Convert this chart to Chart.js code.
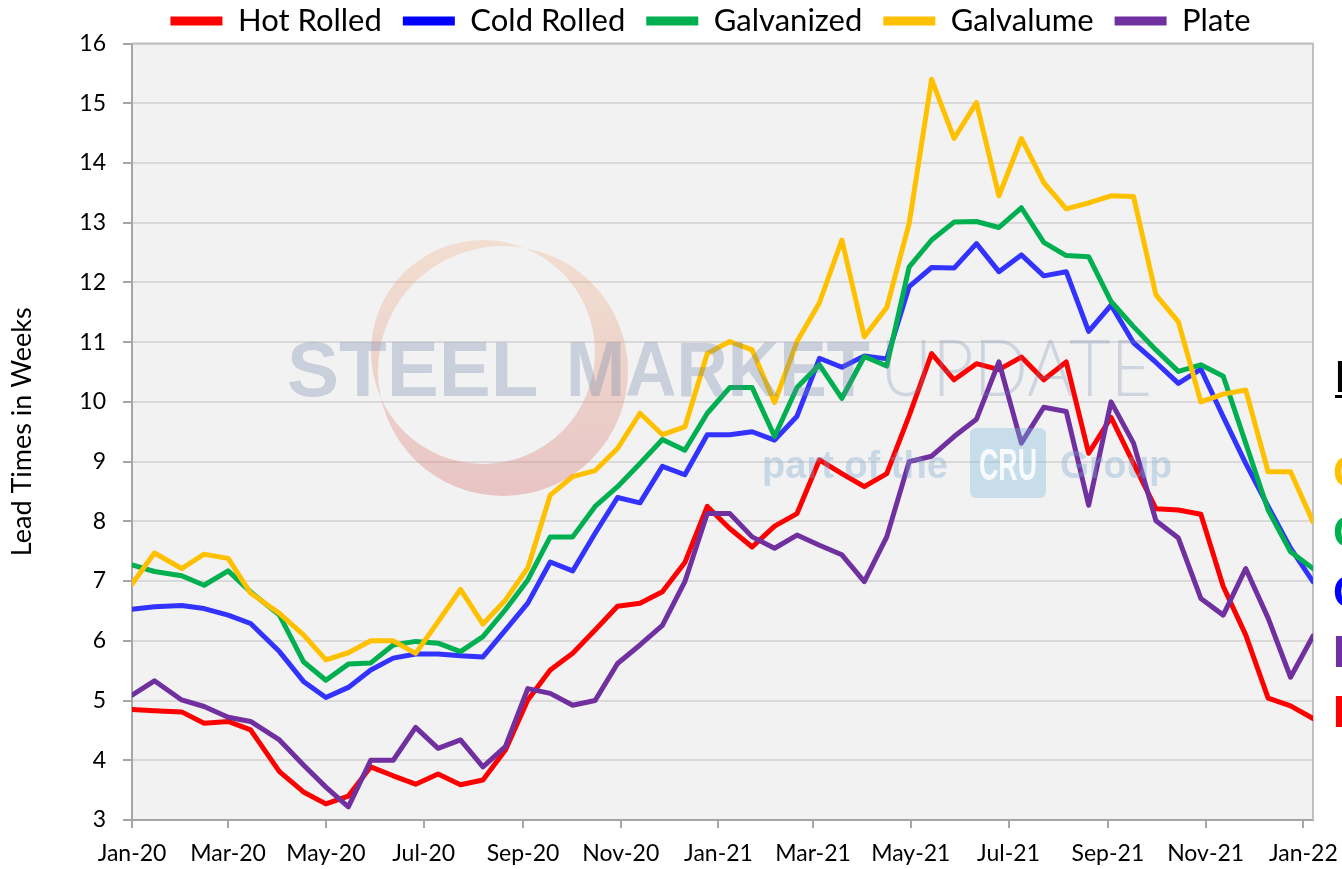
<!DOCTYPE html>
<html>
<head>
<meta charset="utf-8">
<script src="https://cdn.jsdelivr.net/npm/chart.js@4.4.1/dist/chart.umd.min.js"></script>
<style>
html, body { margin: 0; padding: 0; background: #ffffff; width: 1342px; height: 869px; overflow: hidden; }
#wrap { position: relative; width: 1421px; height: 869px; }
canvas { display: block; }
</style>
</head>
<body>
<div id="wrap"><canvas id="chart" width="1421" height="869" style="width:1421px;height:869px"></canvas></div>
<script>
// ---------- data ----------
const surveyDates = [
  '2020-01-01','2020-01-15','2020-02-01','2020-02-15','2020-03-01','2020-03-15','2020-04-02','2020-04-17',
  '2020-05-01','2020-05-15','2020-05-29','2020-06-12','2020-06-26','2020-07-10','2020-07-24','2020-08-07',
  '2020-08-21','2020-09-04','2020-09-18','2020-10-02','2020-10-16','2020-10-30','2020-11-13','2020-11-27',
  '2020-12-11','2020-12-25','2021-01-08','2021-01-22','2021-02-05','2021-02-19','2021-03-05','2021-03-19',
  '2021-04-02','2021-04-16','2021-04-30','2021-05-14','2021-05-28','2021-06-11','2021-06-25','2021-07-09',
  '2021-07-23','2021-08-06','2021-08-20','2021-09-03','2021-09-17','2021-10-01','2021-10-15','2021-10-29',
  '2021-11-12','2021-11-26','2021-12-10','2021-12-24','2022-01-07'
];
const hotRolled = [
  4.85,4.83,4.81,4.62,4.65,4.51,3.81,3.47,3.27,3.40,
  3.89,3.74,3.60,3.77,3.59,3.67,4.17,5.01,5.51,5.79,
  6.18,6.58,6.63,6.82,7.31,8.25,7.88,7.57,7.92,8.13,
  9.03,8.80,8.58,8.80,9.77,10.81,10.37,10.64,10.54,10.75,
  10.37,10.67,9.14,9.74,8.97,8.21,8.19,8.12,6.91,6.10,
  5.04,4.91,4.70
];
const coldRolled = [
  6.53,6.57,6.59,6.54,6.43,6.29,5.82,5.32,5.05,5.22,
  5.51,5.71,5.78,5.78,5.75,5.73,6.18,6.63,7.32,7.17,
  7.80,8.40,8.31,8.92,8.78,9.45,9.45,9.50,9.36,9.76,
  10.73,10.58,10.77,10.72,11.93,12.25,12.24,12.65,12.18,12.46,
  12.11,12.18,11.18,11.62,10.99,10.66,10.31,10.55,9.75,8.97,
  8.25,7.55,6.99
];
const galvanized = [
  7.27,7.16,7.09,6.93,7.17,6.82,6.43,5.65,5.34,5.61,
  5.63,5.93,5.99,5.96,5.82,6.07,6.52,7.02,7.74,7.74,
  8.25,8.58,8.97,9.37,9.19,9.81,10.24,10.24,9.42,10.24,
  10.62,10.06,10.76,10.60,12.26,12.71,13.01,13.02,12.92,13.25,
  12.67,12.45,12.43,11.68,11.26,10.87,10.51,10.62,10.43,9.31,
  8.19,7.49,7.21
];
const galvalume = [
  6.95,7.47,7.21,7.45,7.38,6.80,6.46,6.10,5.68,5.80,
  6.00,6.00,5.79,6.32,6.86,6.28,6.68,7.22,8.44,8.75,
  8.85,9.22,9.81,9.45,9.58,10.81,11.01,10.87,9.99,11.01,
  11.66,12.71,11.09,11.58,12.99,15.40,14.41,15.01,13.45,14.41,
  13.67,13.23,13.33,13.45,13.44,11.79,11.34,10.00,10.13,10.20,
  8.83,8.83,7.99
];
const plate = [
  5.09,5.33,5.01,4.90,4.72,4.65,4.34,3.92,3.55,3.22,
  4.00,4.00,4.55,4.20,4.34,3.89,4.23,5.20,5.12,4.92,
  5.00,5.62,5.93,6.26,6.99,8.13,8.13,7.74,7.55,7.77,
  7.60,7.44,6.99,7.74,9.00,9.09,9.42,9.71,10.67,9.31,
  9.91,9.84,8.27,10.00,9.31,8.01,7.72,6.71,6.43,7.21,
  6.38,5.39,6.08
];
const seriesNames = ['Hot Rolled','Cold Rolled','Galvanized','Galvalume','Plate'];
const tickDates = ['2020-01-01','2020-03-01','2020-05-01','2020-07-01','2020-09-01','2020-11-01',
  '2021-01-01','2021-03-01','2021-05-01','2021-07-01','2021-09-01','2021-11-01','2022-01-01'];
const tickLabels = ['Jan-20','Mar-20','May-20','Jul-20','Sep-20','Nov-20',
  'Jan-21','Mar-21','May-21','Jul-21','Sep-21','Nov-21','Jan-22'];
const yTicks = [3,4,5,6,7,8,9,10,11,12,13,14,15,16];
const axisTitle = 'Lead Times in Weeks';
const sideLegend = [['Lead Times','#000000'],['Galvalume','#ffc000'],['Galvanized','#00b050'],
  ['Cold Rolled','#0000ff'],['Plate','#7030a0'],['Hot Rolled','#ff0000']];

// ---------- helpers ----------
const EPOCH = Date.UTC(2020, 0, 1);
function dayIndex(s) {
  const [y, m, d] = s.split('-').map(Number);
  return Math.round((Date.UTC(y, m - 1, d) - EPOCH) / 86400000);
}
const xDays = surveyDates.map(dayIndex);
const tickDays = tickDates.map(dayIndex);
function pts(values) { return values.map((v, i) => ({ x: xDays[i], y: v })); }

const lineColors = ['#ff0000', '#3333ff', '#00b050', '#ffc000', '#7030a0'];
const legendColors = ['#ff0000', '#0000ff', '#00b050', '#ffc000', '#7030a0'];
const allSeries = [hotRolled, coldRolled, galvanized, galvalume, plate];

Chart.defaults.font.family = 'Lato';
Chart.defaults.color = '#000000';

const decor = {
  id: 'decor',
  beforeDraw(chart) {
    const { ctx, chartArea: a } = chart;
    ctx.save();
    ctx.fillStyle = '#f2f2f2';
    ctx.fillRect(a.left, a.top, a.right - a.left, a.bottom - a.top);
    ctx.restore();
  },
  beforeDatasetsDraw(chart) {
    const { ctx, chartArea: a } = chart;
    ctx.save();
    ctx.strokeStyle = '#c0c0c0';
    ctx.lineWidth = 2;
    ctx.beginPath();
    ctx.moveTo(a.left, a.top);
    ctx.lineTo(a.right, a.top);
    ctx.lineTo(a.right, a.bottom);
    ctx.stroke();
    ctx.restore();
  },
  afterDatasetsDraw(chart) {
    const { ctx } = chart;
    ctx.save();
    // crescent
    const g = ctx.createLinearGradient(0, 245, 0, 500);
    g.addColorStop(0, 'rgba(240,175,130,0.30)');
    g.addColorStop(1, 'rgba(215,120,120,0.38)');
    ctx.fillStyle = g;
    ctx.beginPath();
    ctx.moveTo(503 + 125, 371);
    ctx.arc(503, 371, 125, 0, Math.PI * 2);
    ctx.moveTo(483 + 112, 352);
    ctx.arc(483, 352, 112, 0, Math.PI * 2);
    ctx.fill('evenodd');
    // words
    ctx.textBaseline = 'alphabetic';
    ctx.fillStyle = 'rgba(105,130,170,0.30)';
    ctx.font = 'bold 78px "Liberation Sans"';
    ctx.fillText('STEEL', 287, 396, 253);
    ctx.fillText('MARKET', 566, 396, 304);
    ctx.fillStyle = 'rgba(105,130,170,0.26)';
    ctx.font = '300 78px Lato';
    ctx.fillText('UPDATE', 880, 396, 272);
    ctx.fillStyle = 'rgba(120,165,205,0.35)';
    ctx.font = 'bold 38px "Liberation Sans"';
    ctx.fillText('part of the', 762, 478, 196);
    ctx.fillText('Group', 1060, 478, 112);
    ctx.beginPath();
    ctx.roundRect(970, 428, 76, 70, 6);
    ctx.fillStyle = 'rgba(120,185,220,0.35)';
    ctx.fill();
    ctx.fillStyle = 'rgba(255,255,255,0.85)';
    ctx.font = 'bold 44px "Liberation Sans Narrow", "Liberation Sans"';
    ctx.textAlign = 'center';
    ctx.fillText('CRU', 1008, 480, 58);
    ctx.restore();
  },
  afterDraw(chart) {
    const { ctx } = chart;
    ctx.save();
    ctx.textBaseline = 'alphabetic';
    ctx.font = 'bold 44px "Liberation Sans"';
    ctx.fillStyle = sideLegend[0][1];
    ctx.fillText(sideLegend[0][0], 1335, 392);
    ctx.fillRect(1335, 395, 240, 3);
    for (let i = 1; i < sideLegend.length; i++) {
      ctx.fillStyle = sideLegend[i][1];
      ctx.fillText(sideLegend[i][0], 1333, 487 + (i - 1) * 60);
    }
    ctx.restore();
  }
};

new Chart(document.getElementById('chart'), {
  type: 'line',
  data: {
    datasets: seriesNames.map((name, i) => ({
      label: name,
      data: pts(allSeries[i]),
      borderColor: lineColors[i],
      backgroundColor: legendColors[i],
      borderWidth: 5,
      pointRadius: 0,
      pointHoverRadius: 0,
      tension: 0,
      fill: false,
      borderJoinStyle: 'round',
      borderCapStyle: 'round',
      order: seriesNames.length - i
    }))
  },
  options: {
    responsive: false,
    animation: false,
    devicePixelRatio: 1,
    layout: { padding: { top: -15.5, left: 0, right: 0, bottom: 0 } },
    plugins: {
      tooltip: { enabled: false },
      legend: {
        position: 'top',
        maxHeight: 59,
        labels: {
          boxWidth: 52,
          boxHeight: 9,
          padding: 21,
          color: '#000000',
          font: { family: 'Lato', size: 31 },
          generateLabels: (chart) => chart.data.datasets.map((ds, i) => ({
            text: ds.label,
            fillStyle: legendColors[i],
            strokeStyle: legendColors[i],
            lineWidth: 0,
            hidden: !chart.isDatasetVisible(i),
            datasetIndex: i,
            fontColor: '#000000'
          }))
        }
      }
    },
    scales: {
      x: {
        type: 'linear',
        min: 0,
        max: dayIndex('2022-01-07'),
        afterBuildTicks: (scale) => { scale.ticks = tickDays.map(v => ({ value: v })); },
        afterFit: (scale) => { scale.height = 49; },
        ticks: {
          autoSkip: false,
          maxRotation: 0,
          minRotation: 0,
          padding: 12,
          color: '#000000',
          font: { family: 'Lato', size: 23 },
          callback: (value, index) => tickLabels[index]
        },
        grid: { display: true, drawOnChartArea: false, drawTicks: true, tickLength: 8, color: '#a6a6a6', lineWidth: 2 },
        border: { display: true, color: '#a6a6a6', width: 2 }
      },
      y: {
        type: 'linear',
        position: 'left',
        min: 3,
        max: 16,
        afterBuildTicks: (scale) => { scale.ticks = yTicks.map(v => ({ value: v })); },
        afterFit: (scale) => { scale.width = 132; },
        ticks: {
          padding: 17,
          color: '#000000',
          font: { family: 'Lato', size: 23 },
          callback: (value) => String(value)
        },
        grid: { color: '#d9d9d9', lineWidth: 2, tickColor: '#a6a6a6', tickLength: 9 },
        border: { display: true, color: '#a6a6a6', width: 2 },
        title: {
          display: true,
          text: axisTitle,
          color: '#000000',
          font: { family: 'Lato', size: 27 },
          padding: { top: 6, bottom: 0 }
        }
      },
      yRight: {
        type: 'linear',
        position: 'right',
        display: true,
        afterFit: (scale) => { scale.width = 108; },
        ticks: { display: false },
        grid: { display: false },
        border: { display: false }
      }
    }
  },
  plugins: [decor]
});
</script>
</body>
</html>
